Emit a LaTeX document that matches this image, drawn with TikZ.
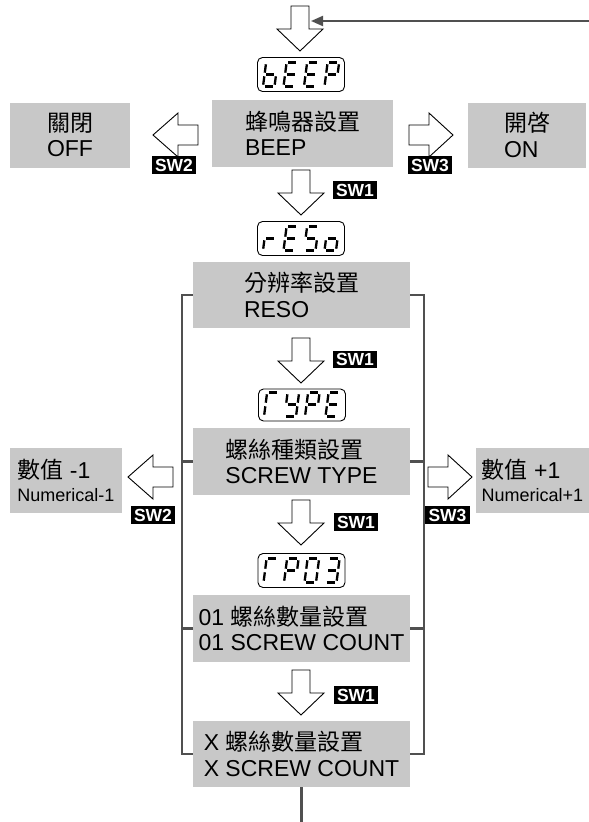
\documentclass[tikz,border=0pt]{standalone}
\usepackage{fontspec}
\setmainfont{Liberation Sans}
\newfontfamily\cjk{Noto Sans CJK TC}
\usetikzlibrary{arrows.meta}
\definecolor{boxgray}{RGB}{200,200,200}
\definecolor{linegray}{RGB}{80,80,80}
\newcommand{\zh}[1]{{\cjk #1}}
% seven-segment pieces (origin bottom-left, up is negative y)
\def\sgA{(1.8,-24) -- (9.7,-24)}
\def\sgB{(11.5,-22.2) -- (11.5,-13.8)}
\def\sgC{(11.5,-10.2) -- (11.5,-1.8)}
\def\sgD{(1.8,0) -- (9.7,0)}
\def\sgE{(0,-1.8) -- (0,-10.2)}
\def\sgF{(0,-13.8) -- (0,-22.2)}
\def\sgG{(1.8,-12) -- (9.7,-12)}
\newcommand{\segdigit}[3]{%
  \begin{scope}[shift={(#1,#2)}, xslant=0.13]
    \foreach \s in {#3} {\draw[segline] \csname sg\s\endcsname;}
  \end{scope}}
\newcommand{\fourdig}[6]{%
  \segdigit{#1}{#2}{#3}\segdigit{#1+20.5}{#2}{#4}%
  \segdigit{#1+41}{#2}{#5}\segdigit{#1+61.5}{#2}{#6}}
\begin{document}
\begin{tikzpicture}[x=1pt,y=-1pt,
  gbox/.style={fill=boxgray, inner sep=0pt, align=left, font=\fontsize{23}{25.5}\selectfont},
  disp/.style={draw=black, line width=0.9pt, rounded corners=5pt, minimum width=87pt, minimum height=34pt, inner sep=0pt},
  segline/.style={line width=2.3pt, line cap=butt},
  swl/.style={fill=black, text=white, font=\bfseries\fontsize{17.5}{18}\selectfont, inner xsep=3.5pt, inner ysep=0pt, minimum height=17.5pt},
  bline/.style={draw=linegray, line width=2.2pt},
  hollow/.style={draw=black, fill=white, line width=0.9pt, line join=miter},
  darrow/.pic={\path[hollow] (-9,0) -- (9,0) -- (9,23) -- (23,23) -- (0,45) -- (-23,23) -- (-9,23) -- cycle;},
  rarrow/.pic={\path[hollow] (0,-10) -- (20,-10) -- (20,-22) -- (44,0) -- (20,22) -- (20,10) -- (0,10) -- cycle;},
  larrow/.pic={\path[hollow] (0,-10) -- (-20,-10) -- (-20,-22) -- (-45,0) -- (-20,22) -- (-20,10) -- (0,10) -- cycle;}
]
\useasboundingbox (0,0) rectangle (589,822);

% boxes
\node[gbox, minimum width=120pt, minimum height=65pt] (off) at (70,135) {\zh{關閉}\\OFF};
\node[gbox, minimum width=181pt, minimum height=67pt] (beep) at (302.5,133.5) {\zh{蜂鳴器設置}\\BEEP};
\node[gbox, minimum width=118pt, minimum height=65pt] (on) at (527,135) {\zh{開啓}\\ON};
\node[gbox, minimum width=217pt, minimum height=66pt] (reso) at (301.5,295) {\zh{分辨率設置}\\RESO};
\node[gbox, minimum width=217pt, minimum height=67pt] (type) at (301.5,461.5) {\zh{螺絲種類設置}\\SCREW TYPE};
\node[gbox, minimum width=112pt, minimum height=65pt] (minus) at (66,480.5) {\zh{數值} -1\\[-2pt]{\fontsize{18}{20}\selectfont Numerical-1}};
\node[gbox, minimum width=113pt, minimum height=65pt] (plus) at (532.5,480.5) {\zh{數值} +1\\[-2pt]{\fontsize{18}{20}\selectfont Numerical+1}};
\node[gbox, minimum width=217pt, minimum height=67pt] (cnt) at (301.5,628.5) {01 \zh{螺絲數量設置}\\01 SCREW COUNT};
\node[gbox, minimum width=217pt, minimum height=66pt] (xcnt) at (301.5,754) {X \zh{螺絲數量設置}\\X SCREW COUNT};

% displays
\node[disp] (dbeep) at (301,74.5) {};
\node[disp] (dreso) at (301,238.5) {};
\node[disp, minimum height=32pt] (dtype) at (302,405) {};
\node[disp] (dtp) at (301.5,570.5) {};
\fourdig{263}{86.5}{F,E,D,C,G}{A,F,G,E,D}{A,F,G,E,D}{A,B,F,G,E}
\fourdig{263}{250.5}{E,G}{A,F,G,E,D}{A,F,G,C,D}{G,C,D,E}
\fourdig{264}{416.5}{A,F,E}{F,B,G,C,D}{A,B,F,G,E}{A,F,G,E,D}
\fourdig{263.5}{582.5}{A,F,E}{A,B,F,G,E}{A,B,C,D,E,F}{A,B,G,C,D}

% hollow arrows
\pic at (300,6) {darrow};
\pic at (301,170) {darrow};
\pic at (301,338) {darrow};
\pic at (301,500) {darrow};
\pic at (301,670) {darrow};
\pic at (198,135) {larrow};
\pic at (409,135) {rarrow};
\pic at (173,477) {larrow};
\pic at (428,477) {rarrow};

% switch labels
\node[swl] (swa) at (174,165) {SW2};
\node[swl] (swb) at (430,165) {SW3};
\node[swl] (swc) at (355,190) {SW1};
\node[swl] (swd) at (355,359.5) {SW1};
\node[swl] (swe) at (356,522) {SW1};
\node[swl] (swf) at (356,695) {SW1};
\node[swl] (swg) at (153,515) {SW2};
\node[swl] (swh) at (447.5,515) {SW3};

% bracket lines
\draw[bline] (reso.west) -- ++(-11,0) |- (xcnt.west);
\draw[bline] (reso.east) -- ++(14,0) |- (xcnt.east);
\draw[bline] (type.west) -- ++(-11,0);
\draw[bline] (type.east) -- ++(14,0);
\draw[bline] (cnt.west) -- ++(-11,0);
\draw[bline] (cnt.east) -- ++(14,0);
\coordinate (bottomend) at (301.5,822);
\draw[bline] (xcnt.south) -- (bottomend);

% return line
\coordinate (retstart) at (589,21);
\coordinate (retend) at (311,21);
\draw[bline, line width=2pt, -{Triangle[length=12pt,width=10pt]}] (retstart) -- (retend);
\end{tikzpicture}
\end{document}
